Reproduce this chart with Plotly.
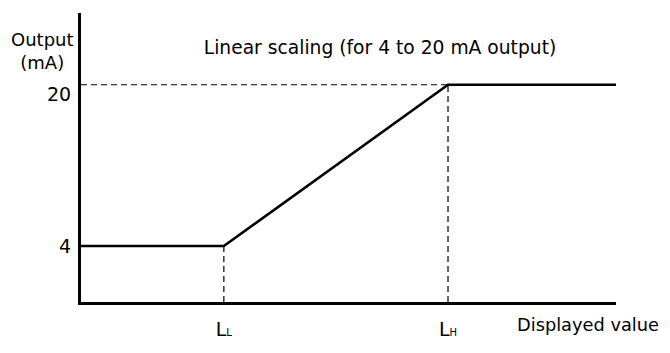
import plotly.graph_objects as go

# breakpoints of the scaling curve (x in display units, y in mA)
display_value = [0, 2.67, 6.86, 10.0]
output_ma = [4, 4, 20, 20]

x_tick_vals = [2.67, 6.86]
x_tick_text = [
    'L<span style="font-size:10px">L</span>',
    'L<span style="font-size:10px">H</span>',
]
y_tick_vals = [4, 20]
y_tick_shift = [0, -9]

Y_MIN, Y_MAX = -1.56, 27.12
FONT = dict(family="DejaVu Sans", size=18, color="black")

# the page keeps its 8px body margin, so the figure is 16px smaller than
# the window and all positions below are shifted by 8px
W, H = 654, 337
L, R, T, B = 73, 46, 5, 30
PW, PH = W - L - R, H - T - B

fig = go.Figure()

# dashed guide lines
ll, lh = display_value[1], display_value[2]
guides = [
    ([0, lh], [output_ma[2], output_ma[2]]),
    ([ll, ll], [Y_MIN, output_ma[1]]),
    ([lh, lh], [Y_MIN, output_ma[2]]),
]
for gx, gy in guides:
    fig.add_trace(
        go.Scatter(
            x=gx, y=gy, mode="lines",
            line=dict(color="black", width=1.2, dash="6px,4px"),
            cliponaxis=False, hoverinfo="skip",
        )
    )

fig.add_trace(
    go.Scatter(
        x=display_value, y=output_ma, mode="lines",
        line=dict(color="black", width=2.6),
        cliponaxis=False,
    )
)

fig.update_layout(
    width=W,
    height=H,
    margin=dict(l=L, r=R, t=T, b=B),
    paper_bgcolor="white",
    plot_bgcolor="white",
    showlegend=False,
    font=FONT,
    title=dict(
        text="Linear scaling (for 4 to 20 mA output)",
        x=372 / W, xanchor="center",
        y=1 - 39 / H, yanchor="middle",
        font=dict(family="DejaVu Sans", size=18.7, color="black"),
    ),
)

fig.update_xaxes(
    range=[0, 10],
    showgrid=False, zeroline=False,
    showline=True, linecolor="black", linewidth=3,
    tickvals=x_tick_vals, ticktext=x_tick_text,
    ticks="outside", ticklen=8, tickcolor="rgba(0,0,0,0)",
    tickfont=dict(family="DejaVu Sans", size=19, color="black"),
)
fig.update_yaxes(
    range=[Y_MIN, Y_MAX],
    showgrid=False, zeroline=False,
    showline=True, linecolor="black", linewidth=3,
    showticklabels=False, ticks="",
)

for val, shift in zip(y_tick_vals, y_tick_shift):
    fig.add_annotation(
        x=0, xref="paper", y=val, yref="y",
        text=str(val), showarrow=False,
        xanchor="right", yanchor="middle",
        xshift=-8, yshift=shift,
        font=dict(family="DejaVu Sans", size=19, color="black"),
    )

fig.add_annotation(
    xref="paper", x=(34 - L) / PW,
    yref="paper", y=1 - (45 - T) / PH,
    text="Output<br>(mA)", showarrow=False,
    xanchor="center", yanchor="middle", align="center",
    font=FONT,
)

fig.add_annotation(
    x=1, xref="paper", y=0, yref="paper",
    text="Displayed value", showarrow=False,
    xanchor="left", yanchor="middle",
    xshift=-101, yshift=-22,
    font=dict(family="DejaVu Sans", size=17.8, color="black"),
)

fig.write_html("out.html", config={"displayModeBar": False})
